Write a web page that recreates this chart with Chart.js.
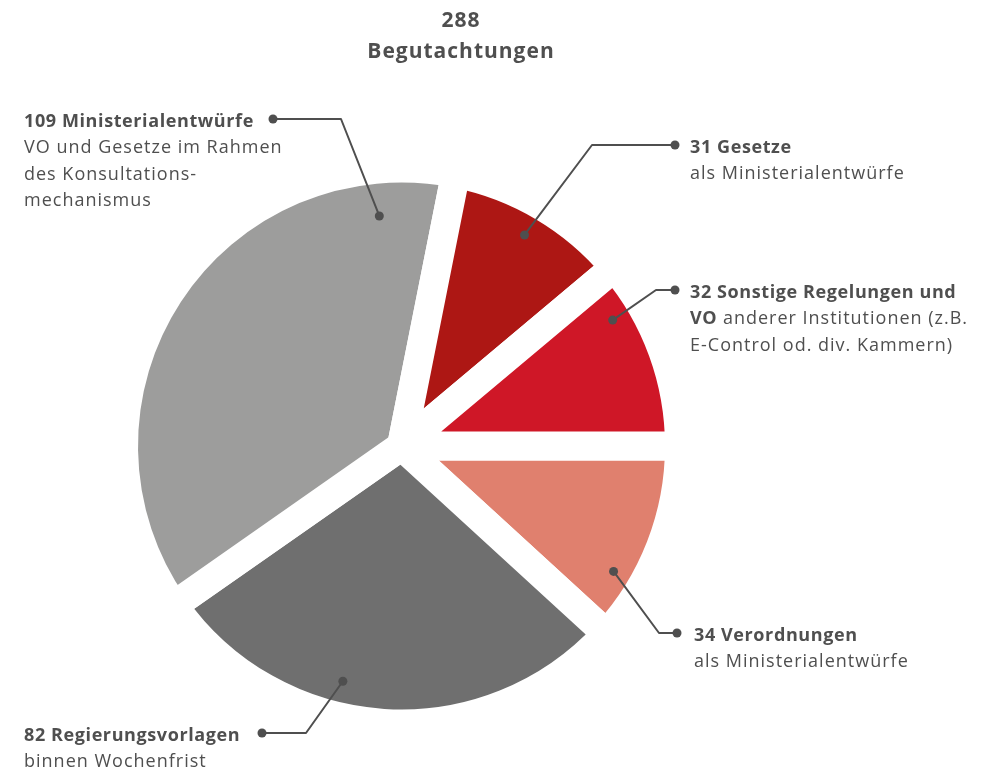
<!DOCTYPE html>
<html lang="de">
<head>
<meta charset="utf-8">
<title>288 Begutachtungen</title>
<script src="https://cdn.jsdelivr.net/npm/chart.js@4"></script>
<style>
  html, body { margin: 0; padding: 0; background: #fff; }
  #wrap { position: relative; width: 984px; height: 771px; }
</style>
</head>
<body>
<div id="wrap"><canvas id="pieChart"></canvas></div>
<script>
// Slices, clockwise starting at 3 o'clock
const categories = ['Verordnungen', 'Regierungsvorlagen', 'Ministerialentwürfe', 'Gesetze', 'Sonstige Regelungen und VO'];
const counts = [34, 82, 109, 31, 32];
const titleLines = ['288', 'Begutachtungen'];

// Label text per slice: lines of [text, bold] runs
const labelLines = [
    [[[`${counts[0]} Verordnungen`, true]], [['als Ministerialentwürfe', false]]],
    [[[`${counts[1]} Regierungsvorlagen`, true]], [['binnen Wochenfrist', false]]],
    [[[`${counts[2]} Ministerialentwürfe`, true]], [['VO und Gesetze im Rahmen', false]], [['des Konsultations-', false]], [['mechanismus', false]]],
    [[[`${counts[3]} Gesetze`, true]], [['als Ministerialentwürfe', false]]],
    [[[`${counts[4]} Sonstige Regelungen und`, true]], [['VO', true], [' anderer Institutionen (z.B.', false]], [['E-Control od. div. Kammern)', false]]]
];

// Styling / layout
const sliceColors = ['#e0806e', '#6f6f6f', '#9d9d9c', '#ad1714', '#cf1727'];
const GAP = 29;          // white gap between slices
const INK = '#4f4f4f';
const FONT = "'Open Sans', sans-serif";
const LABEL_SIZE = 18;
const LINE_H = 26.4;

// callout: where the dot sits inside the slice (angle fraction, radius fraction),
// where the leader bends and where the label starts
const callouts = [
    { frac: 0.72, rad: 0.935, bendX: 659, dotX: 677, y: 633, textX: 694 },
    { frac: 0.60, rad: 0.92, bendX: 306, dotX: 262, y: 733, textX: 24 },
    { frac: 0.877, rad: 0.877, bendX: 341, dotX: 273, y: 119, textX: 24 },
    { frac: 0.49, rad: 0.927, bendX: 592, dotX: 675, y: 145, textX: 690 },
    { frac: 0.23, rad: 0.933, bendX: 656, dotX: 675, y: 290, textX: 690 }
];

function dot(ctx, x, y) {
    ctx.beginPath();
    ctx.arc(x, y, 4.5, 0, Math.PI * 2);
    ctx.fill();
}

function setFont(ctx, bold, size) {
    ctx.font = `${bold ? 'bold ' : ''}${size}px ${FONT}`;
    ctx.letterSpacing = bold ? '0.6px' : '1px';
}

const calloutPlugin = {
    id: 'callouts',
    afterDatasetsDraw(chart) {
        const ctx = chart.ctx;
        const meta = chart.getDatasetMeta(0);
        ctx.save();
        ctx.strokeStyle = INK;
        ctx.fillStyle = INK;
        ctx.lineWidth = 2;
        ctx.lineJoin = 'round';
        ctx.textBaseline = 'alphabetic';
        ctx.textAlign = 'left';

        meta.data.forEach((arc, i) => {
            const c = callouts[i];
            const p = arc.getProps(['x', 'y', 'startAngle', 'endAngle', 'outerRadius'], true);
            const a = p.startAngle + c.frac * (p.endAngle - p.startAngle);
            const r = (p.outerRadius - GAP / 2) * c.rad;
            const px = p.x + Math.cos(a) * r;
            const py = p.y + Math.sin(a) * r;

            ctx.beginPath();
            ctx.moveTo(px, py);
            ctx.lineTo(c.bendX, c.y);
            ctx.lineTo(c.dotX, c.y);
            ctx.stroke();
            dot(ctx, px, py);
            dot(ctx, c.dotX, c.y);

            labelLines[i].forEach((runs, li) => {
                let x = c.textX;
                const y = c.y + 8 + li * LINE_H;
                runs.forEach(([text, bold]) => {
                    setFont(ctx, bold, LABEL_SIZE);
                    ctx.fillText(text, x, y);
                    x += ctx.measureText(text).width;
                });
            });
        });

        // headline
        ctx.textAlign = 'center';
        setFont(ctx, true, 21);
        ctx.letterSpacing = '1px';
        ctx.fillText(titleLines[0], 461, 27);
        ctx.fillText(titleLines[1], 461, 58);
        ctx.restore();
    }
};

new Chart(document.getElementById('pieChart'), {
    type: 'pie',
    data: {
        labels: categories,
        datasets: [{
            data: counts,
            backgroundColor: sliceColors,
            borderColor: '#ffffff',
            borderWidth: GAP,
            borderJoinStyle: 'bevel',
            hoverOffset: 0,
            rotation: 90,
            radius: 263.5 + GAP / 2,
            clip: false
        }]
    },
    options: {
        responsive: true,
        maintainAspectRatio: false,
        animation: false,
        events: [],
        layout: { padding: { left: 0, right: 181, top: 121, bottom: 0 } },
        plugins: {
            legend: { display: false },
            tooltip: { enabled: false }
        }
    },
    plugins: [calloutPlugin]
});
</script>
</body>
</html>
